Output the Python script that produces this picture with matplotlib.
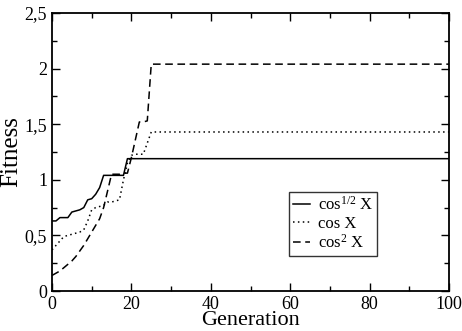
import matplotlib
matplotlib.use('Agg')
import matplotlib.pyplot as plt
from matplotlib.ticker import MultipleLocator, FuncFormatter

plt.rcParams['font.family'] = ['Liberation Serif', 'DejaVu Serif']
plt.rcParams['mathtext.fontset'] = 'custom'
plt.rcParams['mathtext.rm'] = 'Liberation Serif'
plt.rcParams['mathtext.it'] = 'Liberation Serif:italic'

# fitness per generation (0..25), after that the value stays constant
gen_early = list(range(26))
fit_sqrt = [0.63, 0.63, 0.66, 0.66, 0.66, 0.71, 0.72, 0.73, 0.75, 0.82, 0.83, 0.87, 0.93,
            1.04, 1.04, 1.04, 1.04, 1.04, 1.04, 1.19, 1.19, 1.19, 1.19, 1.19, 1.19, 1.19]
fit_cos = [0.37, 0.41, 0.45, 0.49, 0.50, 0.51, 0.52, 0.53, 0.55, 0.63, 0.73, 0.75, 0.76,
           0.77, 0.80, 0.80, 0.81, 0.82, 1.00, 1.15, 1.22, 1.23, 1.23, 1.23, 1.33, 1.43]
fit_sq = [0.14, 0.16, 0.18, 0.21, 0.24, 0.27, 0.31, 0.36, 0.41, 0.47, 0.53, 0.59, 0.65,
          0.75, 0.90, 1.05, 1.05, 1.05, 1.06, 1.06, 1.20, 1.36, 1.52, 1.52, 1.53, 2.04]
last_gen = 100

labels = [r'cos$^{1/2}$ X', 'cos X', r'cos$^{2}$ X']
styles = ['-', ':', '--']

fig = plt.figure(figsize=(4.62, 3.31), dpi=100)
ax = fig.add_axes([52 / 462, 40 / 331, 397 / 462, 278 / 331])

for ys, ls, lab in zip([fit_sqrt, fit_cos, fit_sq], styles, labels):
    xs = gen_early + [last_gen]
    yy = ys + [ys[-1]]
    if ls == '--':
        ax.plot(xs, yy, color='black', lw=1.1, dashes=(5, 3), label=lab)
    elif ls == ':':
        ax.plot(xs, yy, color='black', lw=1.1, dashes=(1, 2.2), label=lab)
    else:
        ax.plot(xs, yy, color='black', lw=1.1, label=lab)

ax.set_xlim(0, 100)
ax.set_ylim(0, 2.5)
ax.xaxis.set_major_locator(MultipleLocator(20))
ax.xaxis.set_minor_locator(MultipleLocator(10))
ax.yaxis.set_major_locator(MultipleLocator(0.5))
ax.yaxis.set_minor_locator(MultipleLocator(0.25))
ax.yaxis.set_major_formatter(FuncFormatter(lambda v, p: ('%g' % v).replace('.', ',')))

ax.tick_params(which='both', direction='in', top=True, right=True, labelsize=13, width=1)
ax.tick_params(which='major', length=6)
ax.tick_params(which='minor', length=3.5)
for s in ax.spines.values():
    s.set_linewidth(1.3)

ax.set_xlabel('Generation', fontsize=16, labelpad=-1)
ax.set_ylabel('Fitness', fontsize=18, labelpad=2)

leg = ax.legend(loc='upper left', bbox_to_anchor=(0.596, 0.356), fontsize=12,
                frameon=True, fancybox=False, handlelength=1.05, handletextpad=0.45,
                borderpad=0.25, labelspacing=0.12, borderaxespad=0)
leg.get_frame().set_edgecolor('black')
leg.get_frame().set_linewidth(1.0)

plt.savefig('out.png', dpi=100)
